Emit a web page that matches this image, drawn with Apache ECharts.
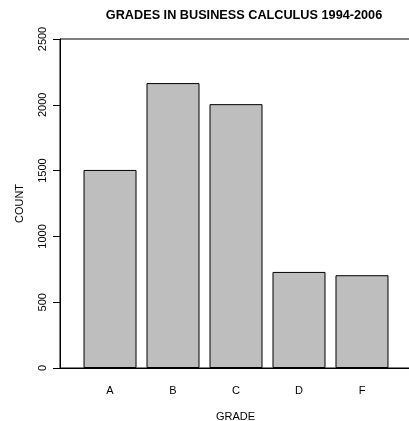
<!DOCTYPE html>
<html>
<head>
<meta charset="utf-8">
<script src="https://cdn.jsdelivr.net/npm/echarts@6/dist/echarts.min.js"></script>
<style>
  html, body { margin: 0; padding: 0; background: #fff; }
  #chart { width: 409px; height: 421px; }
</style>
</head>
<body>
<div id="chart"></div>
<script>
// grade categories and counts
var grades = ['A', 'B', 'C', 'D', 'F'];
var counts = [1505, 2165, 2005, 730, 705];
var yTicks = [0, 500, 1000, 1500, 2000, 2500];

var font = 'Liberation Sans, Arial, sans-serif';
var chart = echarts.init(document.getElementById('chart'));

// bars sit at x = 0..4 on a value axis so the frame can start left of the first bar
var barData = [];
for (var i = 0; i < grades.length; i++) {
  barData.push([i, counts[i]]);
}

var option = {
  animation: false,
  backgroundColor: '#fff',
  title: {
    text: 'GRADES IN BUSINESS CALCULUS 1994-2006',
    left: 239,
    top: 4,
    textAlign: 'center',
    textStyle: { fontFamily: font, fontSize: 12.7, fontWeight: 'bold', color: '#000' }
  },
  grid: {
    left: 60,
    right: -2,
    top: 39,
    bottom: 53,
    outerBoundsMode: 'none',
    show: true,
    borderColor: '#000',
    borderWidth: 1
  },
  xAxis: {
    type: 'value',
    min: -0.794,
    max: 4.778,
    name: 'GRADE',
    nameLocation: 'middle',
    nameGap: 43,
    nameTextStyle: { fontFamily: font, fontSize: 11, color: '#000' },
    axisLine: { show: true, onZero: false, lineStyle: { color: '#000' } },
    axisTick: { show: false },
    splitLine: { show: false },
    axisLabel: {
      customValues: [0, 1, 2, 3, 4],
      formatter: function (v) { return grades[Math.round(v)]; },
      margin: 17,
      fontFamily: font,
      fontSize: 11,
      color: '#000'
    }
  },
  yAxis: {
    type: 'value',
    min: yTicks[0],
    max: yTicks[yTicks.length - 1],
    interval: 500,
    name: 'COUNT',
    nameLocation: 'middle',
    nameGap: 35,
    nameTextStyle: { fontFamily: font, fontSize: 11, color: '#000' },
    axisLine: { show: true, onZero: false, lineStyle: { color: '#000' } },
    axisTick: { show: true, length: 7, lineStyle: { color: '#000' } },
    splitLine: { show: false },
    axisLabel: {
      rotate: 90,
      margin: 12,
      formatter: function (v) { return String(v); },
      fontFamily: font,
      fontSize: 11,
      color: '#000'
    }
  },
  series: [{
    type: 'bar',
    data: barData,
    barWidth: 53,
    itemStyle: { color: '#bebebe', borderColor: '#000', borderWidth: 1 }
  }]
};

chart.setOption(option);
</script>
</body>
</html>
